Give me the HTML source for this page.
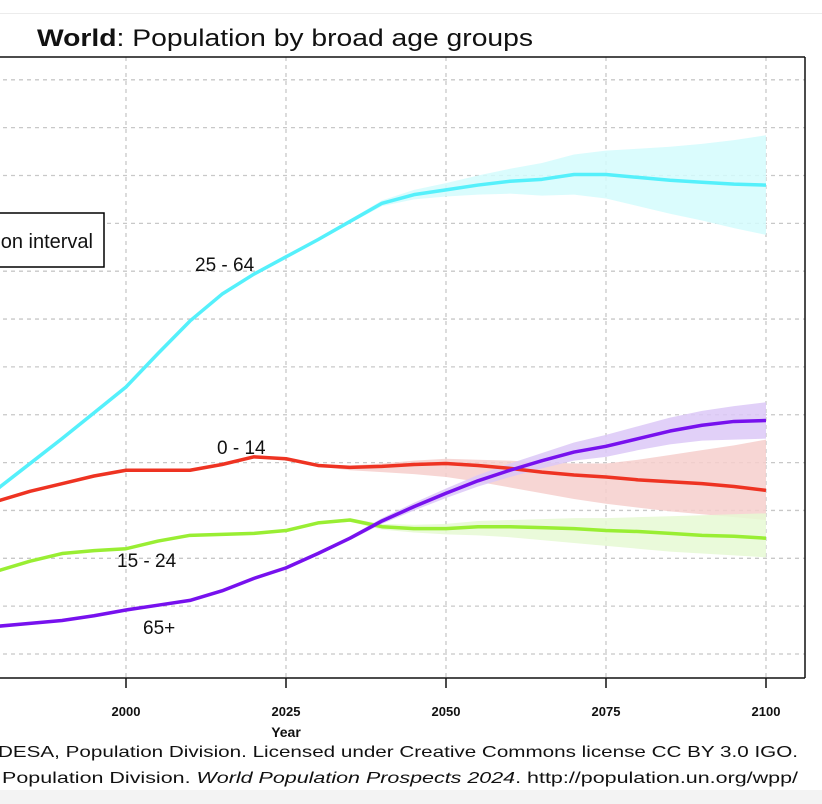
<!DOCTYPE html>
<html><head><meta charset="utf-8"><style>
html,body{margin:0;padding:0;background:#fff;width:822px;height:804px;overflow:hidden}
svg{display:block;font-family:"Liberation Sans",Arial,sans-serif}
</style></head><body>
<svg id="chart" width="822" height="804" viewBox="0 0 822 804">
<rect x="0" y="0" width="822" height="804" fill="#fff"/>
<line x1="0" y1="13.5" x2="822" y2="13.5" stroke="#ececec"/>
<rect x="0" y="790" width="822" height="14" fill="#f3f3f3"/>
<text x="37" y="46" font-size="24" fill="#111" textLength="496" lengthAdjust="spacingAndGlyphs"><tspan font-weight="bold">World</tspan>: Population by broad age groups</text>
<g id="grid"></g>
<g id="bands"></g>
<g id="lines"></g>
<rect x="-10" y="213" width="114" height="54" fill="#fff" stroke="#000" stroke-width="1.5"/>
<text x="93" y="248" font-size="20" text-anchor="end" fill="#111">95% projection interval</text>
<text x="195" y="271" font-size="19" fill="#111">25 - 64</text>
<text x="217" y="454" font-size="19" fill="#111">0 - 14</text>
<text x="117" y="567" font-size="19" fill="#111">15 - 24</text>
<text x="143" y="634" font-size="19" fill="#111">65+</text>
<line x1="-5" y1="57" x2="805" y2="57" stroke="#111" stroke-width="1.5"/>
<line x1="805" y1="57" x2="805" y2="678" stroke="#111" stroke-width="1.5"/>
<line x1="-5" y1="678" x2="805" y2="678" stroke="#111" stroke-width="1.5"/>
<g id="xaxis"></g>
<text x="286" y="737" font-size="14" font-weight="bold" text-anchor="middle" fill="#111">Year</text>
<text x="-4" y="757" font-size="16" text-anchor="end" fill="#111">© 2024 United Nations, </text>
<text x="-2" y="757" font-size="16" fill="#111" textLength="800" lengthAdjust="spacingAndGlyphs">DESA, Population Division. Licensed under Creative Commons license CC BY 3.0 IGO.</text>
<text x="-2" y="783" font-size="16" text-anchor="end" fill="#111">United Nations, DESA, </text>
<text x="2" y="783" font-size="16" fill="#111" textLength="796" lengthAdjust="spacingAndGlyphs">Population Division. <tspan font-style="italic">World Population Prospects 2024</tspan>. http://population.un.org/wpp/</text>
</svg>
<script>
const years=[1980,1985,1990,1995,2000,2005,2010,2015,2020,2025,2030,2035,2040,2045,2050,2055,2060,2065,2070,2075,2080,2085,2090,2095,2100];
const age2564=[1.73,1.99,2.25,2.52,2.79,3.14,3.48,3.76,3.97,4.15,4.33,4.52,4.71,4.80,4.85,4.90,4.94,4.96,5.01,5.01,4.98,4.95,4.93,4.91,4.90];
const age014=[1.60,1.70,1.78,1.86,1.92,1.92,1.92,1.98,2.06,2.04,1.97,1.95,1.96,1.98,1.99,1.97,1.94,1.90,1.87,1.85,1.82,1.80,1.78,1.75,1.71];
const age1524=[0.87,0.97,1.05,1.08,1.10,1.18,1.24,1.25,1.26,1.29,1.37,1.40,1.33,1.31,1.31,1.33,1.33,1.32,1.31,1.29,1.28,1.26,1.24,1.23,1.21];
const age65=[0.29,0.32,0.35,0.40,0.46,0.51,0.56,0.66,0.79,0.90,1.05,1.21,1.39,1.54,1.68,1.81,1.92,2.02,2.11,2.17,2.25,2.33,2.39,2.43,2.44];
const projYears=[2025,2030,2035,2040,2045,2050,2055,2060,2065,2070,2075,2080,2085,2090,2095,2100];
const band2564Hi=[4.15,4.34,4.54,4.74,4.85,4.92,5.00,5.07,5.13,5.22,5.26,5.28,5.30,5.33,5.37,5.42];
const band2564Lo=[4.15,4.32,4.50,4.68,4.75,4.78,4.80,4.81,4.79,4.80,4.76,4.68,4.60,4.53,4.45,4.38];
const band014Hi=[2.04,1.98,1.97,1.99,2.02,2.04,2.03,2.02,2.00,1.99,1.99,2.03,2.08,2.13,2.18,2.24];
const band014Lo=[2.04,1.96,1.92,1.90,1.88,1.85,1.80,1.74,1.68,1.62,1.57,1.53,1.49,1.46,1.43,1.40];
const band1524Hi=[1.29,1.38,1.42,1.36,1.35,1.36,1.39,1.40,1.41,1.42,1.42,1.43,1.44,1.45,1.46,1.47];
const band1524Lo=[1.29,1.36,1.38,1.30,1.27,1.25,1.24,1.22,1.19,1.16,1.13,1.10,1.07,1.05,1.03,1.01];
const band65Hi=[0.90,1.06,1.23,1.42,1.58,1.73,1.87,1.99,2.10,2.21,2.29,2.38,2.47,2.54,2.59,2.63];
const band65Lo=[0.90,1.04,1.19,1.36,1.50,1.63,1.75,1.85,1.94,2.02,2.06,2.13,2.19,2.23,2.24,2.25];
const xTicks=[2000,2025,2050,2075,2100];
const yGrid=[0,0.5,1,1.5,2,2.5,3,3.5,4,4.5,5,5.5,6];

const X=y=>126+(y-2000)*6.4;
const Y=v=>654-v*95.7;
const NS='http://www.w3.org/2000/svg';
function mk(tag,parent,attrs){const e=document.createElementNS(NS,tag);for(const k in attrs)e.setAttribute(k,attrs[k]);parent.appendChild(e);return e;}
const grid=document.getElementById('grid');
yGrid.forEach(v=>{const l=mk('line',grid,{x1:-5,x2:805,y1:Y(v),y2:Y(v),stroke:'#c8c8c8','stroke-dasharray':'4,4','stroke-width':1.3});

});
xTicks.forEach(t=>{const l=mk('line',grid,{x1:X(t),x2:X(t),y1:57,y2:678,stroke:'#c8c8c8','stroke-dasharray':'4,4','stroke-width':1.3});

});
const xa=document.getElementById('xaxis');
xTicks.forEach(t=>{const l=mk('line',xa,{x1:X(t),x2:X(t),y1:678,y2:688,stroke:'#111','stroke-width':1.5});


const tx=mk('text',xa,{x:X(t),y:716,'font-size':13,'font-weight':'bold','text-anchor':'middle',fill:'#111'});tx.textContent=t;

});
const bands=document.getElementById('bands');
[[band2564Lo,band2564Hi,'#d4fbfd','band-25-64'],[band014Lo,band014Hi,'#f6cfcc','band-0-14'],[band1524Lo,band1524Hi,'#e6f9d4','band-15-24'],[band65Lo,band65Hi,'#dcc8f7','band-65-plus']].forEach(([lo,hi,c,n])=>{
let d='M'+projYears.map((y,i)=>X(y)+','+Y(hi[i])).join('L')+'L'+projYears.map((y,i)=>X(y)+','+Y(lo[i])).reverse().join('L')+'Z';
const p=mk('path',bands,{d:d,fill:c,opacity:0.85});

});
const lines=document.getElementById('lines');
[[age2564,'#55f0fb','line-25-64'],[age014,'#ee3322','line-0-14'],[age1524,'#99ee33','line-15-24'],[age65,'#7711ee','line-65-plus']].forEach(([vals,c,n])=>{
const p=mk('polyline',lines,{points:years.map((y,i)=>X(y)+','+Y(vals[i])).join(' '),fill:'none',stroke:c,'stroke-width':3.5,'stroke-linejoin':'round'});

});
</script>
</body></html>
